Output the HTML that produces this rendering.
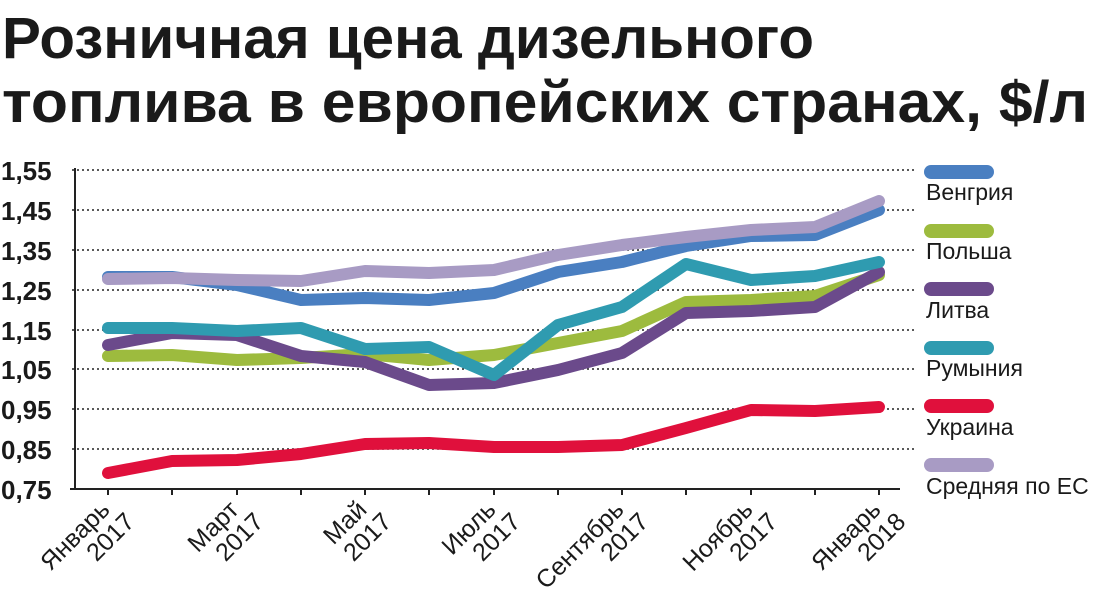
<!DOCTYPE html>
<html><head><meta charset="utf-8"><style>
html,body{margin:0;padding:0;background:#fff;}
svg{display:block;font-family:"Liberation Sans","DejaVu Sans",sans-serif;}
</style></head><body>
<svg width="1107" height="600" viewBox="0 0 1107 600" xmlns="http://www.w3.org/2000/svg">
<text x="2" y="58" font-size="58" font-weight="bold" fill="#1a1a1a" textLength="812" lengthAdjust="spacingAndGlyphs">Розничная цена дизельного</text>
<text x="2" y="122" font-size="58" font-weight="bold" fill="#1a1a1a" textLength="1086" lengthAdjust="spacingAndGlyphs">топлива в европейских странах, $/л</text>
<g stroke="#222" stroke-width="1.5" stroke-dasharray="2,3">
<line x1="72" y1="170" x2="915" y2="170"/><line x1="72" y1="210" x2="915" y2="210"/>
<line x1="72" y1="250" x2="915" y2="250"/><line x1="72" y1="290" x2="915" y2="290"/>
<line x1="72" y1="330" x2="915" y2="330"/><line x1="72" y1="369" x2="915" y2="369"/>
<line x1="72" y1="409" x2="915" y2="409"/><line x1="72" y1="449" x2="915" y2="449"/>
</g>
<g font-size="26" font-weight="bold" fill="#1a1a1a">
<text x="1" y="180">1,55</text><text x="1" y="220">1,45</text><text x="1" y="260">1,35</text>
<text x="1" y="300">1,25</text><text x="1" y="340">1,15</text><text x="1" y="379">1,05</text>
<text x="1" y="419">0,95</text><text x="1" y="459">0,85</text><text x="1" y="499">0,75</text>
</g>
<g stroke="#222" stroke-width="2">
<line x1="75" y1="168" x2="75" y2="489"/><line x1="70" y1="489" x2="900" y2="489"/>
<line x1="108" y1="489" x2="108" y2="495"/><line x1="172" y1="489" x2="172" y2="495"/>
<line x1="237" y1="489" x2="237" y2="495"/><line x1="301" y1="489" x2="301" y2="495"/>
<line x1="365" y1="489" x2="365" y2="495"/><line x1="429" y1="489" x2="429" y2="495"/>
<line x1="494" y1="489" x2="494" y2="495"/><line x1="558" y1="489" x2="558" y2="495"/>
<line x1="622" y1="489" x2="622" y2="495"/><line x1="686" y1="489" x2="686" y2="495"/>
<line x1="751" y1="489" x2="751" y2="495"/><line x1="815" y1="489" x2="815" y2="495"/>
<line x1="879" y1="489" x2="879" y2="495"/>
</g>
<g fill="none" stroke-width="12" stroke-linecap="round" stroke-linejoin="round">
<polyline stroke="#e0103c" points="108,473 172,461 237,460 301,454 365,444 429,443 494,447 558,447 622,445 686,428 751,410 815,411 879,407"/>
<polyline stroke="#9dbb3e" points="108,356 172,355 237,360 301,358 365,354 429,360 494,355 558,343 622,331 686,302 751,300 815,296 879,275"/>
<polyline stroke="#6b4a8b" points="108,345 172,333 237,335 301,356 365,362 429,385 494,383 558,370 622,353 686,313 751,311 815,307 879,272"/>
<polyline stroke="#2f9bb0" points="108,328 172,328 237,331 301,328 365,349 429,347 494,375 558,325 622,307 686,264 751,280 815,276 879,262"/>
<polyline stroke="#4a7fc1" points="108,277 172,277 237,285 301,300 365,298 429,300 494,293 558,272 622,262 686,246 751,236 815,235 879,210"/>
<polyline stroke="#a89bc4" points="108,279 172,278 237,280 301,281 365,271 429,273 494,270 558,255 622,245 686,237 751,230 815,227 879,201"/>
</g>
<g font-size="25" fill="#1a1a1a">
<g transform="translate(114,514) rotate(-45)"><text text-anchor="end" x="0" y="-4">Январь</text><text text-anchor="end" x="9" y="22">2017</text></g>
<g transform="translate(243,514) rotate(-45)"><text text-anchor="end" x="0" y="-4">Март</text><text text-anchor="end" x="9" y="22">2017</text></g>
<g transform="translate(371,514) rotate(-45)"><text text-anchor="end" x="0" y="-4">Май</text><text text-anchor="end" x="9" y="22">2017</text></g>
<g transform="translate(500,514) rotate(-45)"><text text-anchor="end" x="0" y="-4">Июль</text><text text-anchor="end" x="9" y="22">2017</text></g>
<g transform="translate(628,514) rotate(-45)"><text text-anchor="end" x="0" y="-4">Сентябрь</text><text text-anchor="end" x="9" y="22">2017</text></g>
<g transform="translate(757,514) rotate(-45)"><text text-anchor="end" x="0" y="-4">Ноябрь</text><text text-anchor="end" x="9" y="22">2017</text></g>
<g transform="translate(885,514) rotate(-45)"><text text-anchor="end" x="0" y="-4">Январь</text><text text-anchor="end" x="9" y="22">2018</text></g>
</g>
<g stroke-width="14" stroke-linecap="round">
<line x1="931" y1="172" x2="987" y2="172" stroke="#4a7fc1"/>
<line x1="931" y1="231" x2="987" y2="231" stroke="#9dbb3e"/>
<line x1="931" y1="289" x2="987" y2="289" stroke="#6b4a8b"/>
<line x1="931" y1="348" x2="987" y2="348" stroke="#2f9bb0"/>
<line x1="931" y1="406" x2="987" y2="406" stroke="#e0103c"/>
<line x1="931" y1="465" x2="987" y2="465" stroke="#a89bc4"/>
</g>
<g font-size="23" fill="#1a1a1a">
<text x="926" y="200">Венгрия</text><text x="926" y="259">Польша</text>
<text x="926" y="318">Литва</text><text x="926" y="376">Румыния</text>
<text x="926" y="435">Украина</text><text x="926" y="494">Средняя по ЕС</text>
</g>
</svg>
</body></html>
